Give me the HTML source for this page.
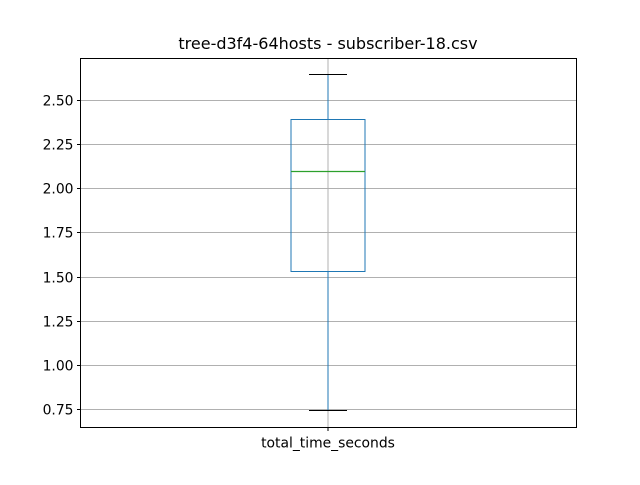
<!DOCTYPE html>
<html><head><meta charset="utf-8"><style>
body{margin:0;background:#fff;}
svg text{font-family:"DejaVu Sans","Liberation Sans",sans-serif;}
</style></head><body>
<svg id="chart" width="640" height="480" xmlns="http://www.w3.org/2000/svg">
<rect width="640" height="480" fill="#fff"/>
<text x="328" y="49" font-size="16" text-anchor="middle">tree-d3f4-64hosts - subscriber-18.csv</text>
<g id="grid"></g>
<g id="box"></g>
<rect x="80.5" y="58.5" width="496" height="369" fill="none" stroke="#000" stroke-width="1"/>
<g id="axes"></g>
</svg>
<script>
const categories = ["total_time_seconds"];
const whiskerLow = [0.744];
const q1Values = [1.532];
const medianValues = [2.098];
const q3Values = [2.392];
const whiskerHigh = [2.647];
const yTicks = [0.75,1.00,1.25,1.50,1.75,2.00,2.25,2.50];
const yTickLabels = ["0.75","1.00","1.25","1.50","1.75","2.00","2.25","2.50"];

const NS="http://www.w3.org/2000/svg";
const L=80.5,R=576.5,T=58.5,B=427.5;
const y=v=>Math.round(409-(v-0.75)*(309/1.75))+0.5;
const x=i=>Math.round(80+(i+0.5)*496/categories.length)+0.5;
function mk(tag,attrs,parent){const e=document.createElementNS(NS,tag);for(const k in attrs)e.setAttribute(k,attrs[k]);document.getElementById(parent).appendChild(e);return e;}
yTicks.forEach((v,i)=>{
  const yy=y(v);
  const g=mk("line",{x1:L,x2:R,y1:yy,y2:yy,stroke:"#b0b0b0","stroke-width":1},"grid");
  
  
  const t=mk("line",{x1:L-3.5,x2:L,y1:yy,y2:yy,stroke:"#000","stroke-width":1},"axes");
  
  
  const tx=mk("text",{x:L-7,y:yy+5,"font-size":"13.9","text-anchor":"end"},"axes");
  tx.textContent=yTickLabels[i];
  
  
});
categories.forEach((c,i)=>{
  const cx=x(i)-0.5;
  const vg=mk("line",{x1:cx,x2:cx,y1:T,y2:B,stroke:"#b0b0b0","stroke-width":1},"grid");
  
  
  const hw=37,cw=19,col="#1f77b4";
  const w1=mk("line",{x1:cx,x2:cx,y1:y(q1Values[i]),y2:y(whiskerLow[i]),stroke:col,"stroke-width":1},"box");
  
  
  const w2=mk("line",{x1:cx,x2:cx,y1:y(q3Values[i]),y2:y(whiskerHigh[i]),stroke:col,"stroke-width":1},"box");
  
  
  const c1=mk("line",{x1:cx-cw,x2:cx+cw,y1:y(whiskerLow[i]),y2:y(whiskerLow[i]),stroke:"#000","stroke-width":1},"box");
  
  
  const c2=mk("line",{x1:cx-cw,x2:cx+cw,y1:y(whiskerHigh[i]),y2:y(whiskerHigh[i]),stroke:"#000","stroke-width":1},"box");
  
  
  const bx=mk("rect",{x:cx-hw,y:y(q3Values[i]),width:2*hw,height:y(q1Values[i])-y(q3Values[i]),fill:"none",stroke:col,"stroke-width":1},"box");
  
  
  const md=mk("line",{x1:cx-hw,x2:cx+hw,y1:y(medianValues[i]),y2:y(medianValues[i]),stroke:"#2ca02c","stroke-width":1.2},"box");
  
  
  const xt=mk("line",{x1:cx,x2:cx,y1:B,y2:B+3.5,stroke:"#000","stroke-width":1},"axes");
  
  
  const xl=mk("text",{x:cx,y:B+20,"font-size":"13.9","text-anchor":"middle"},"axes");
  xl.textContent=c;
  
  
});
</script>
</body></html>
